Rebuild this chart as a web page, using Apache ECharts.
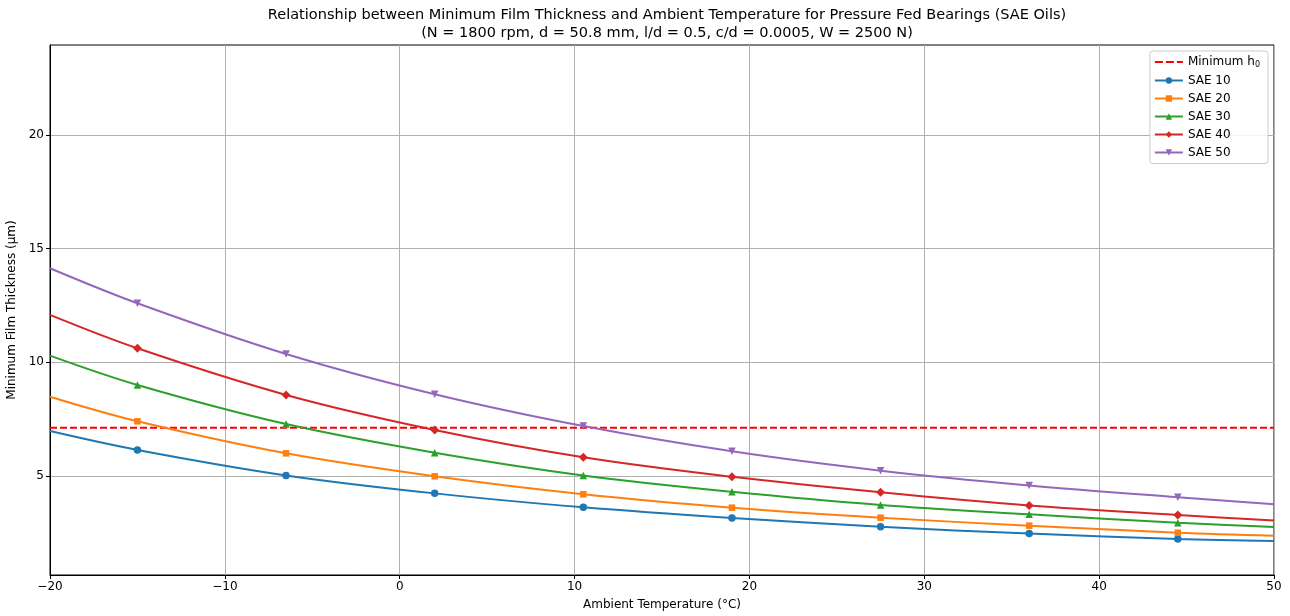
<!DOCTYPE html>
<html>
<head>
<meta charset="utf-8">
<script src="https://cdn.jsdelivr.net/npm/echarts@6/dist/echarts.min.js"></script>
<style>html,body{margin:0;padding:0;background:#fff;}#chart{width:1290px;height:616px;}</style>
</head>
<body>
<div id="chart"></div>
<script>
// Data
const temps = [-20, -15, -6.5, 2, 10.5, 19, 27.5, 36, 44.5, 50];
const markerTemps = [-15, -6.5, 2, 10.5, 19, 27.5, 36, 44.5];
const sae10 = [6.97, 6.14, 5.02, 4.23, 3.62, 3.15, 2.76, 2.46, 2.22, 2.13];
const sae20 = [8.48, 7.40, 5.99, 4.98, 4.19, 3.60, 3.16, 2.81, 2.50, 2.37];
const sae30 = [10.29, 9.00, 7.28, 6.02, 5.02, 4.30, 3.72, 3.31, 2.94, 2.75];
const sae40 = [12.08, 10.61, 8.56, 7.02, 5.82, 4.96, 4.28, 3.70, 3.28, 3.04];
const sae50 = [14.13, 12.59, 10.36, 8.59, 7.19, 6.08, 5.23, 4.58, 4.06, 3.75];
const minH0 = 7.12;
const xRange = [-20, 50];
const yTicks = [5, 10, 15, 20];
const yRange = [0.64, 23.95];

const seriesNames = ['SAE 10', 'SAE 20', 'SAE 30', 'SAE 40', 'SAE 50'];
const seriesValues = [sae10, sae20, sae30, sae40, sae50];
const colors = ['#1f77b4', '#ff7f0e', '#2ca02c', '#d62728', '#9467bd'];
const symbols = ['circle', 'rect', 'triangle', 'diamond', 'triangle'];
const rotations = [0, 0, 0, 0, 180];
const sizes = [7.5, 6.5, 7.5, 9, 7.5];
const MIN_NAME = 'Minimum h₀';

const FONT = 'DejaVu Sans';
const chart = echarts.init(document.getElementById('chart'), null, {renderer: 'canvas'});

const series = [{
  name: MIN_NAME,
  type: 'line',
  data: xRange.map(x => [x, minH0]),
  symbol: 'none',
  lineStyle: {color: '#ff0000', width: 2, type: [7, 3]},
  itemStyle: {color: '#ff0000'},
  z: 3
}];
seriesNames.forEach((name, i) => {
  series.push({
    name: name,
    type: 'line',
    smooth: 0.35,
    showAllSymbol: true,
    symbol: symbols[i],
    symbolRotate: rotations[i],
    symbolSize: sizes[i],
    data: temps.map((t, j) => {
      const item = {value: [t, seriesValues[i][j]]};
      if (markerTemps.indexOf(t) < 0) item.symbol = 'none';
      return item;
    }),
    lineStyle: {color: colors[i], width: 2},
    itemStyle: {color: colors[i]},
    z: 4
  });
});

// dashed legend icon (tiny corner specks fix the bounding box height)
const dashIcon = 'path://M0,0 L0.01,0 L0.01,0.01 Z M0,8 L0.01,8 L0.01,7.99 Z ' +
  'M0,3 L8,3 L8,5 L0,5 Z M11,3 L19,3 L19,5 L11,5 Z M22,3 L28,3 L28,5 L22,5 Z';

chart.setOption({
  animation: false,
  backgroundColor: '#fff',
  title: {
    text: 'Relationship between Minimum Film Thickness and Ambient Temperature for Pressure Fed Bearings (SAE Oils)\n(N = 1800 rpm, d = 50.8 mm, l/d = 0.5, c/d = 0.0005, W = 2500 N)',
    left: 662,
    textAlign: 'center',
    top: 1,
    textStyle: {fontFamily: FONT, fontSize: 14.5, fontWeight: 'normal', color: '#000', lineHeight: 18}
  },
  legend: {
    data: [{name: MIN_NAME, icon: dashIcon}].concat(seriesNames),
    orient: 'vertical',
    right: 22,
    top: 51,
    itemWidth: 28,
    itemHeight: 8,
    itemGap: 6,
    padding: [5, 8, 5, 4],
    borderColor: '#cccccc',
    borderWidth: 1,
    borderRadius: 3,
    backgroundColor: 'rgba(255,255,255,0.85)',
    formatter: name => name === MIN_NAME ? 'Minimum h{sub|0}' : name,
    textStyle: {fontFamily: FONT, fontSize: 12, color: '#000',
      rich: {sub: {fontFamily: FONT, fontSize: 8, color: '#000', padding: [5, 0, 0, 0]}}}
  },
  grid: {left: 50, right: 16, top: 45, bottom: 41, show: true, borderColor: '#000', borderWidth: 1,
    backgroundColor: 'transparent', containLabel: false, outerBoundsMode: 'none'},
  xAxis: {
    type: 'value',
    min: xRange[0],
    max: xRange[1],
    interval: 10,
    name: 'Ambient Temperature (°C)',
    nameLocation: 'middle',
    nameGap: 24,
    nameTextStyle: {fontFamily: FONT, fontSize: 12, color: '#000'},
    axisLine: {onZero: false, lineStyle: {color: '#000'}},
    axisTick: {show: true, length: 4, lineStyle: {color: '#000'}},
    axisLabel: {fontFamily: FONT, fontSize: 12, color: '#000', margin: 6,
      formatter: v => String(v).replace('-', '\u2212')},
    splitLine: {show: true, lineStyle: {color: '#b0b0b0', width: 1}}
  },
  yAxis: {
    type: 'value',
    min: yRange[0],
    max: yRange[1],
    name: 'Minimum Film Thickness (μm)',
    nameLocation: 'middle',
    nameGap: 28,
    nameTextStyle: {fontFamily: FONT, fontSize: 12, color: '#000'},
    axisLine: {show: true, onZero: false, lineStyle: {color: '#000'}},
    axisTick: {show: true, length: 4, lineStyle: {color: '#000'}, customValues: yTicks},
    axisLabel: {fontFamily: FONT, fontSize: 12, color: '#000', margin: 6, customValues: yTicks},
    splitLine: {show: true, lineStyle: {color: '#b0b0b0', width: 1}, customValues: yTicks}
  },
  series: series
});
</script>
</body>
</html>
